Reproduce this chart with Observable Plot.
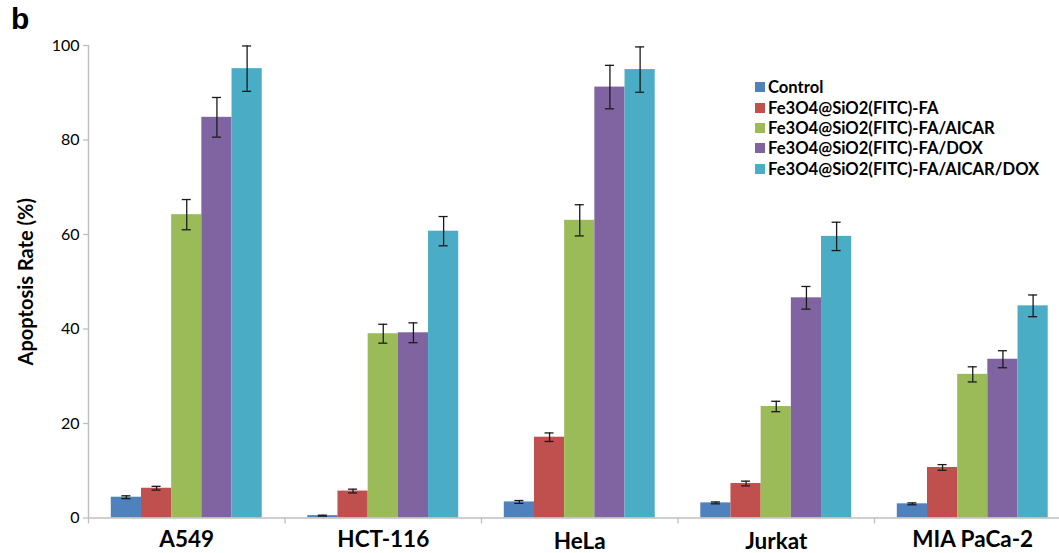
<!DOCTYPE html>
<html>
<head>
<meta charset="utf-8">
<script src="https://cdn.jsdelivr.net/npm/d3@7"></script>
<script src="https://cdn.jsdelivr.net/npm/@observablehq/plot@0.6"></script>
<style>
  html, body { margin: 0; padding: 0; background: #fff; overflow: hidden; }
  #wrap { position: relative; width: 1059px; height: 553px; overflow: hidden; }
  #panel { position: absolute; left: 11px; top: 4px; font: bold 30px "Liberation Sans", Arial, sans-serif; color: #000; line-height: 1; }
  #legend { position: absolute; left: 755px; top: 77px; }
  .lg-swatches { font: bold 16.6px Lato, sans-serif !important; color: #000; margin: 0 !important; }
  .lg-swatch { height: 20.4px; padding-bottom: 0 !important; display: flex !important; align-items: center !important; }
  .lg-swatch > svg { margin-right: 3px !important; }
  .lg-swatch-label { overflow: visible !important; }
  svg g[aria-label="y-axis label"] text { font-weight: bold; font-size: 20px; }
</style>
</head>
<body>
<div id="wrap"><div id="panel">b</div><div id="legend"></div></div>
<script>
const categories = ["A549", "HCT-116", "HeLa", "Jurkat", "MIA PaCa-2"];
const seriesNames = [
  "Control",
  "Fe3O4@SiO2(FITC)-FA",
  "Fe3O4@SiO2(FITC)-FA/AICAR",
  "Fe3O4@SiO2(FITC)-FA/DOX",
  "Fe3O4@SiO2(FITC)-FA/AICAR/DOX"
];
const seriesColors = ["#4F81BD", "#C0504D", "#9BBB59", "#8064A2", "#4BACC6"];

const controlValues = [4.4, 0.5, 3.4, 3.2, 3.0];
const controlErrors = [0.3, 0.1, 0.3, 0.2, 0.2];
const faValues = [6.3, 5.7, 17.1, 7.3, 10.7];
const faErrors = [0.4, 0.4, 0.9, 0.5, 0.6];
const faAicarValues = [64.2, 39.0, 63.0, 23.6, 30.4];
const faAicarErrors = [3.2, 2.0, 3.3, 1.1, 1.6];
const faDoxValues = [84.8, 39.2, 91.2, 46.6, 33.6];
const faDoxErrors = [4.2, 2.1, 4.6, 2.4, 1.8];
const faAicarDoxValues = [95.1, 60.7, 94.9, 59.6, 44.9];
const faAicarDoxErrors = [4.8, 3.1, 4.8, 3.0, 2.3];

const yTicks = [0, 20, 40, 60, 80, 100];

const seriesValues = [controlValues, faValues, faAicarValues, faDoxValues, faAicarDoxValues];
const seriesErrors = [controlErrors, faErrors, faAicarErrors, faDoxErrors, faAicarDoxErrors];

// layout of a group inside one category step (fraction of a step)
const groupWidth = 0.768;
const barWidth = groupWidth / seriesNames.length;
const capHalf = 0.023;

const rows = [];
categories.forEach((cat, i) => {
  seriesNames.forEach((s, j) => {
    const x1 = i - groupWidth / 2 + j * barWidth;
    rows.push({
      category: cat, series: s,
      x1, x2: x1 + barWidth, xc: x1 + barWidth / 2,
      value: seriesValues[j][i], err: seriesErrors[j][i]
    });
  });
});

const boundaries = d3.range(categories.length + 1).map(i => i - 0.5);
const upperLabels = [0, 1, 4];
const lowerLabels = [2, 3];
const axisGray = "#BFBFBF";

const chart = Plot.plot({
  width: 1059,
  height: 553,
  marginLeft: 88,
  marginRight: 0,
  marginTop: 45,
  marginBottom: 35.5,
  style: { fontFamily: "Lato, sans-serif", fontSize: "16px", color: "#000", background: "transparent", overflow: "visible" },
  x: { type: "linear", domain: [-0.5, categories.length - 0.5], range: [88, 1070.5] },
  y: { domain: [0, 100] },
  color: { domain: seriesNames, range: seriesColors },
  marks: [
    Plot.rectY(rows, { x1: "x1", x2: "x2", y1: 0, y2: "value", fill: "series", insetLeft: 0, insetRight: 0 }),
    Plot.ruleX(rows, { x: "xc", y1: d => d.value - d.err, y2: d => d.value + d.err, stroke: "#1a1a1a", strokeWidth: 1.3 }),
    Plot.ruleY(rows, { y: d => d.value - d.err, x1: d => d.xc - capHalf, x2: d => d.xc + capHalf, stroke: "#1a1a1a", strokeWidth: 1.3 }),
    Plot.ruleY(rows, { y: d => d.value + d.err, x1: d => d.xc - capHalf, x2: d => d.xc + capHalf, stroke: "#1a1a1a", strokeWidth: 1.3 }),
    Plot.ruleY([0], { stroke: axisGray, strokeWidth: 1.5 }),
    Plot.ruleX([-0.5], { y1: 0, y2: 100, stroke: axisGray, strokeWidth: 1.5 }),
    Plot.axisY({ ticks: yTicks, tickSize: 5, tickPadding: 4, stroke: axisGray, strokeWidth: 1.3, fontSize: 16, label: "Apoptosis Rate (%)", labelAnchor: "center", labelOffset: 70, labelArrow: "none" }),
    Plot.axisX({ ticks: boundaries, tickFormat: () => "", tickSize: 6, stroke: axisGray, strokeWidth: 1.3, label: null }),
    Plot.axisX({ ticks: upperLabels, tickFormat: i => categories[i], tickSize: 0, tickPadding: 13, fontSize: 22.5, fontWeight: "bold", label: null }),
    Plot.axisX({ ticks: lowerLabels, tickFormat: i => categories[i], tickSize: 0, tickPadding: 15, fontSize: 22.5, fontWeight: "bold", label: null })
  ]
});
document.getElementById("wrap").prepend(chart);

const legend = Plot.legend({
  color: { domain: seriesNames, range: seriesColors },
  legend: "swatches",
  columns: 1,
  swatchSize: 10,
  className: "lg",
  width: 320
});
document.getElementById("legend").appendChild(legend);
</script>
</body>
</html>
